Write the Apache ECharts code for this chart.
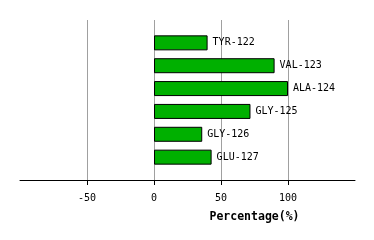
<!DOCTYPE html>
<html><head><meta charset="utf-8">
<script src="https://cdn.jsdelivr.net/npm/echarts@6/dist/echarts.min.js"></script>
<style>html,body{margin:0;padding:0;background:#fff}#c{width:374px;height:240px}</style>
</head><body><div id="c"></div>
<script>
const categories = ['', 'TYR-122', 'VAL-123', 'ALA-124', 'GLY-125', 'GLY-126', 'GLU-127', ''];
const values = [null, 40, 90, 100, 72, 36, 43, null];
const tickValues = [-50, 0, 50, 100];
const axisTitle = 'Percentage(%)';

const chart = echarts.init(document.getElementById('c'), null, {renderer: 'canvas'});
const font = 'DejaVu Sans Mono';
chart.setOption({
  animation: false,
  grid: {left: 20, right: 19, top: 20, bottom: 60, containLabel: false},
  xAxis: {
    type: 'value', min: -100, max: 150, interval: 50,
    name: axisTitle, nameLocation: 'middle', nameGap: 31,
    nameTextStyle: {fontFamily: font, fontWeight: 'bold', fontSize: 11.5, color: '#000', padding: [0, 0, 0, 134]},
    axisLine: {show: true, lineStyle: {color: '#000', width: 1}},
    axisTick: {show: true, length: 5, lineStyle: {color: '#000'}, customValues: tickValues},
    axisLabel: {fontFamily: font, fontSize: 10, color: '#000', margin: 13, customValues: tickValues},
    splitLine: {show: true, lineStyle: {color: '#a0a0a0', width: 1}}
  },
  yAxis: {
    type: 'category', data: categories, inverse: true, boundaryGap: false,
    axisLine: {show: false}, axisTick: {show: false}, axisLabel: {show: false}, splitLine: {show: false}
  },
  series: [{
    type: 'bar', data: values, barWidth: 15,
    itemStyle: {color: '#00b000', borderColor: '#000', borderWidth: 1},
    label: {show: true, position: 'right', distance: 5, fontFamily: font, fontSize: 10, color: '#000',
      formatter: p => categories[p.dataIndex]}
  }]
});
</script></body></html>
